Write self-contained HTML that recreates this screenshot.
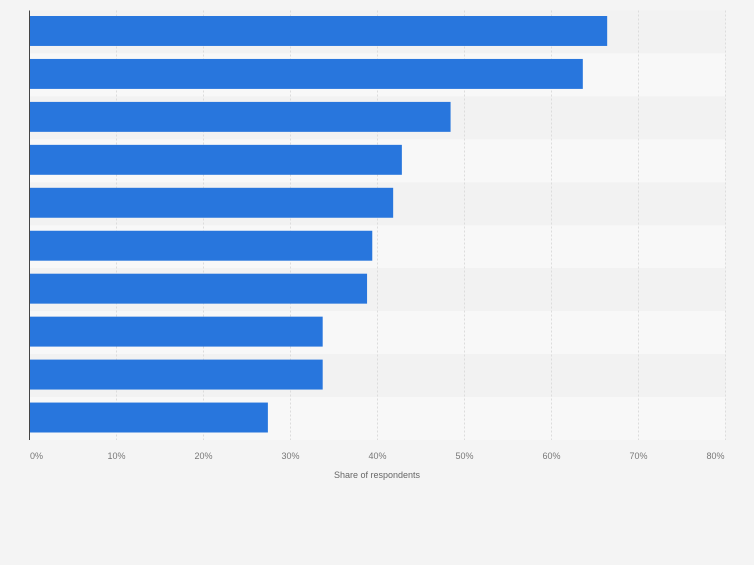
<!DOCTYPE html>
<html><head><meta charset="utf-8"><style>
body{margin:0;width:754px;height:560px;background:#f4f4f4;font-family:"Liberation Sans",sans-serif;overflow:hidden}
</style></head><body>
<svg id="chart" width="754" height="560" xmlns="http://www.w3.org/2000/svg"></svg>
<script>
const categories=["Item 1","Item 2","Item 3","Item 4","Item 5","Item 6","Item 7","Item 8","Item 9","Item 10"];
const values=[66.4,63.6,48.4,42.8,41.8,39.4,38.8,33.7,33.7,27.4];
const ticks=[0,10,20,30,40,50,60,70,80];
const tickLabels=["0%","10%","20%","30%","40%","50%","60%","70%","80%"];
const NS="http://www.w3.org/2000/svg";
const svg=document.getElementById('chart');
const x0=29.5,x1=725.5,yTop=10.5,yBot=440;
const xs=v=>x0+(v/80)*(x1-x0);
const band=(yBot-yTop)/categories.length;
function mk(t,a,p){const e=document.createElementNS(NS,t);for(const k in a)e.setAttribute(k,a[k]);(p||svg).appendChild(e);return e;}
categories.forEach((c,i)=>{
  const r=mk('rect',{x:x0,y:yTop+i*band,width:x1-x0,height:band,fill:i%2?'#f8f8f8':'#f2f2f2'});
  
  
});
ticks.forEach((t,i)=>{
  if(t>0){const g=mk('line',{x1:xs(t),x2:xs(t),y1:yTop,y2:yBot,stroke:'#dcdcdc','stroke-dasharray':'2,2'});
  
  }
  const l=mk('text',{x:xs(t)+(i==0?7:(i==8?-10:0)),y:459,'font-size':9,fill:'#777','text-anchor':'middle'});
  l.textContent=tickLabels[i];
  
  
});
values.forEach((v,i)=>{
  const b=mk('rect',{x:x0,y:yTop+i*band+5.5,width:xs(v)-x0,height:band-13,fill:'#2876dd'});
  
  
});
const ax=mk('line',{x1:x0,x2:x0,y1:yTop,y2:yBot,stroke:'#444','stroke-width':1});


const tt=mk('text',{x:377,y:478,'font-size':9,fill:'#666','text-anchor':'middle'});
tt.textContent='Share of respondents';


</script>
</body></html>
